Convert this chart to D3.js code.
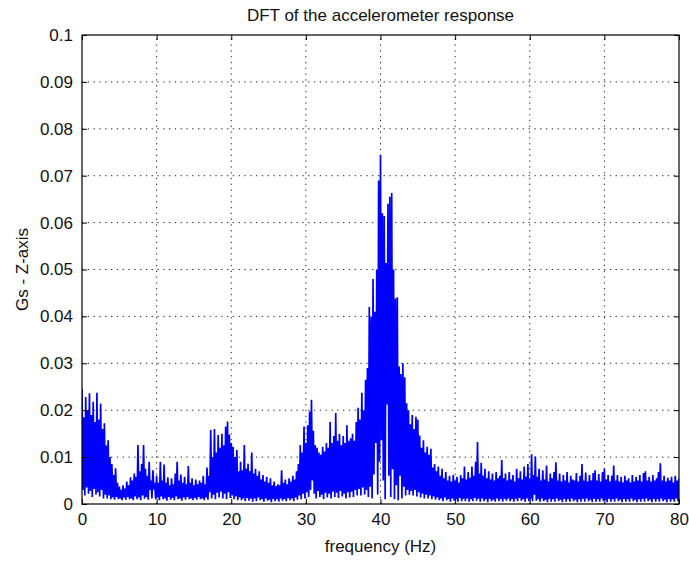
<!DOCTYPE html>
<html>
<head>
<meta charset="utf-8">
<script src="https://cdn.jsdelivr.net/npm/d3@7"></script>
<style>
  body { margin: 0; background: #fff; }
  svg { display: block; }
  text { font-family: "Liberation Sans", Arial, Helvetica, sans-serif; fill: #111; }
</style>
</head>
<body>
<svg id="chart" width="689" height="563"></svg>
<script>
// ---------------- data ----------------
const chartTitle = "DFT of the accelerometer response";
const xAxisLabel = "frequency (Hz)";
const yAxisLabel = "Gs - Z-axis";

const xTickValues = [0, 10, 20, 30, 40, 50, 60, 70, 80];
const xTickLabels = ["0", "10", "20", "30", "40", "50", "60", "70", "80"];
const yTickValues = [0, 0.01, 0.02, 0.03, 0.04, 0.05, 0.06, 0.07, 0.08, 0.09, 0.1];
const yTickLabels = ["0", "0.01", "0.02", "0.03", "0.04", "0.05", "0.06", "0.07", "0.08", "0.09", "0.1"];

// samples were read every 0.25 Hz; peaks at k*0.25 Hz, troughs half a step later
const sampleStepHz = 0.25;

// local maxima of |DFT| (Gs), one every 0.25 Hz from 0 to 80 Hz
const peakMagnitude = [
  0.0245,0.0185,0.0228,0.0200, 0.0236,0.0190,0.0218,0.0175, 0.0237,0.0180,0.0214,0.0160, 0.0172,0.0125,0.0136,0.0100,
  0.0085,0.0062,0.0076,0.0045, 0.0037,0.0030,0.0040,0.0033, 0.0048,0.0040,0.0057,0.0050, 0.0065,0.0058,0.0126,0.0070,
  0.0085,0.0126,0.0075,0.0060, 0.0090,0.0050,0.0072,0.0040, 0.0060,0.0045,0.0090,0.0050, 0.0084,0.0045,0.0057,0.0040,
  0.0055,0.0042,0.0065,0.0090, 0.0050,0.0063,0.0045,0.0058, 0.0042,0.0081,0.0045,0.0055, 0.0040,0.0052,0.0042,0.0050,
  0.0045,0.0060,0.0042,0.0078, 0.0060,0.0158,0.0100,0.0160, 0.0110,0.0147,0.0120,0.0150, 0.0125,0.0165,0.0176,0.0148,
  0.0130,0.0122,0.0100,0.0115, 0.0070,0.0090,0.0072,0.0126, 0.0075,0.0086,0.0070,0.0110, 0.0065,0.0075,0.0060,0.0070,
  0.0052,0.0062,0.0048,0.0058, 0.0045,0.0055,0.0040,0.0048, 0.0038,0.0042,0.0040,0.0072, 0.0045,0.0052,0.0042,0.0055,
  0.0048,0.0060,0.0052,0.0070, 0.0085,0.0126,0.0110,0.0165, 0.0130,0.0168,0.0197,0.0222, 0.0156,0.0125,0.0120,0.0110,
  0.0105,0.0122,0.0112,0.0130, 0.0120,0.0175,0.0130,0.0145, 0.0194,0.0135,0.0150,0.0125, 0.0145,0.0130,0.0168,0.0135,
  0.0140,0.0150,0.0135,0.0175, 0.0205,0.0180,0.0237,0.0200, 0.0265,0.0290,0.0420,0.0400, 0.0480,0.0410,0.0500,0.0690,
  0.0744,0.0620,0.0614,0.0514, 0.0640,0.0655,0.0663,0.0500, 0.0438,0.0441,0.0293,0.0277, 0.0300,0.0270,0.0215,0.0200,
  0.0170,0.0190,0.0160,0.0186, 0.0180,0.0146,0.0120,0.0136, 0.0110,0.0122,0.0105,0.0118, 0.0078,0.0085,0.0070,0.0080,
  0.0060,0.0075,0.0055,0.0068, 0.0050,0.0060,0.0048,0.0062, 0.0050,0.0058,0.0046,0.0062, 0.0055,0.0080,0.0052,0.0068,
  0.0056,0.0080,0.0060,0.0090, 0.0132,0.0065,0.0088,0.0060, 0.0075,0.0055,0.0070,0.0052, 0.0065,0.0050,0.0068,0.0055,
  0.0060,0.0094,0.0055,0.0065, 0.0050,0.0068,0.0052,0.0062, 0.0048,0.0075,0.0055,0.0070, 0.0052,0.0080,0.0058,0.0085,
  0.0055,0.0106,0.0062,0.0101, 0.0058,0.0075,0.0050,0.0072, 0.0052,0.0082,0.0048,0.0065, 0.0055,0.0068,0.0089,0.0050,
  0.0065,0.0048,0.0062,0.0050, 0.0068,0.0046,0.0060,0.0052, 0.0050,0.0066,0.0048,0.0060, 0.0085,0.0050,0.0067,0.0048,
  0.0062,0.0050,0.0066,0.0072, 0.0050,0.0064,0.0048,0.0068, 0.0075,0.0052,0.0062,0.0048, 0.0060,0.0082,0.0050,0.0062,
  0.0048,0.0058,0.0046,0.0060, 0.0050,0.0055,0.0046,0.0062, 0.0048,0.0058,0.0050,0.0062, 0.0048,0.0066,0.0070,0.0050,
  0.0058,0.0048,0.0062,0.0050, 0.0055,0.0068,0.0087,0.0050, 0.0060,0.0048,0.0056,0.0050, 0.0058,0.0046,0.0060,0.0050,
  0.0055
];

// local minima of |DFT| (Gs), half a step after each peak
const troughMagnitude = [
  0.0030,0.0018,0.0035,0.0022, 0.0028,0.0015,0.0032,0.0020, 0.0025,0.0016,0.0030,0.0012, 0.0020,0.0012,0.0018,0.0010,
  0.0014,0.0009,0.0015,0.0010, 0.0012,0.0008,0.0014,0.0009, 0.0015,0.0010,0.0012,0.0008, 0.0016,0.0010,0.0014,0.0008,
  0.0018,0.0011,0.0015,0.0009, 0.0030,0.0012,0.0036,0.0010, 0.0014,0.0008,0.0016,0.0010, 0.0012,0.0007,0.0015,0.0009,
  0.0013,0.0008,0.0016,0.0010, 0.0012,0.0007,0.0014,0.0009, 0.0015,0.0010,0.0012,0.0008, 0.0013,0.0009,0.0015,0.0010,
  0.0012,0.0008,0.0014,0.0009, 0.0025,0.0012,0.0020,0.0010, 0.0024,0.0014,0.0026,0.0012, 0.0022,0.0010,0.0025,0.0013,
  0.0018,0.0010,0.0016,0.0008, 0.0014,0.0008,0.0012,0.0006, 0.0013,0.0007,0.0011,0.0005, 0.0012,0.0006,0.0014,0.0008,
  0.0010,0.0005,0.0012,0.0007, 0.0009,0.0004,0.0011,0.0006, 0.0010,0.0005,0.0012,0.0007, 0.0011,0.0006,0.0013,0.0008,
  0.0012,0.0006,0.0014,0.0009, 0.0018,0.0010,0.0022,0.0012, 0.0025,0.0015,0.0030,0.0050, 0.0022,0.0012,0.0028,0.0015,
  0.0020,0.0010,0.0024,0.0014, 0.0022,0.0012,0.0026,0.0015, 0.0024,0.0013,0.0028,0.0016, 0.0022,0.0012,0.0025,0.0014,
  0.0026,0.0015,0.0030,0.0018, 0.0032,0.0018,0.0035,0.0020, 0.0030,0.0015,0.0037,0.0012, 0.0063,0.0130,0.0020,0.0090,
  0.0136,0.0050,0.0010,0.0212, 0.0060,0.0015,0.0074,0.0010, 0.0040,0.0008,0.0060,0.0012, 0.0037,0.0018,0.0030,0.0020,
  0.0028,0.0018,0.0030,0.0016, 0.0025,0.0014,0.0022,0.0012, 0.0020,0.0012,0.0018,0.0010, 0.0016,0.0009,0.0014,0.0008,
  0.0012,0.0006,0.0014,0.0008, 0.0011,0.0005,0.0012,0.0007, 0.0010,0.0005,0.0013,0.0006, 0.0011,0.0006,0.0012,0.0005,
  0.0010,0.0006,0.0013,0.0007, 0.0011,0.0005,0.0012,0.0006, 0.0010,0.0004,0.0011,0.0006, 0.0009,0.0005,0.0012,0.0006,
  0.0010,0.0005,0.0011,0.0007, 0.0012,0.0006,0.0010,0.0005, 0.0011,0.0006,0.0013,0.0007, 0.0010,0.0005,0.0012,0.0006,
  0.0011,0.0006,0.0020,0.0007, 0.0010,0.0005,0.0012,0.0006, 0.0009,0.0004,0.0011,0.0005, 0.0010,0.0005,0.0012,0.0006,
  0.0009,0.0004,0.0011,0.0005, 0.0010,0.0005,0.0012,0.0006, 0.0009,0.0004,0.0010,0.0005, 0.0011,0.0005,0.0012,0.0006,
  0.0009,0.0004,0.0011,0.0005, 0.0010,0.0005,0.0012,0.0006, 0.0009,0.0004,0.0011,0.0005, 0.0010,0.0005,0.0012,0.0006,
  0.0009,0.0004,0.0011,0.0005, 0.0010,0.0005,0.0012,0.0006, 0.0009,0.0004,0.0010,0.0005, 0.0011,0.0005,0.0012,0.0006,
  0.0009,0.0004,0.0011,0.0005, 0.0010,0.0005,0.0012,0.0006, 0.0009,0.0004,0.0011,0.0005, 0.0010,0.0005,0.0012,0.0006
];

// ---------------- layout ----------------
const W = 689, H = 563;
const margin = { left: 82, top: 35, right: 10, bottom: 59 };
const plotW = W - margin.left - margin.right;
const plotH = H - margin.top - margin.bottom;
const fontSize = 17;

const svg = d3.select("#chart");
svg.append("rect").attr("width", W).attr("height", H).attr("fill", "#fff");

const x = d3.scaleLinear().domain([0, 80]).range([margin.left, margin.left + plotW]);
const y = d3.scaleLinear().domain([0, 0.1]).range([margin.top + plotH, margin.top]);

// interleave peaks and troughs into one trace
const trace = [];
peakMagnitude.forEach((v, i) => {
  trace.push([i * sampleStepHz, v]);
  if (i < troughMagnitude.length) trace.push([i * sampleStepHz + sampleStepHz / 2, troughMagnitude[i]]);
});

// grid (dotted, under the data)
const grid = svg.append("g").attr("stroke", "#222").attr("stroke-width", 1)
  .attr("stroke-dasharray", "1.3,4.5").attr("fill", "none");
xTickValues.slice(1, -1).forEach(v => {
  grid.append("line").attr("x1", x(v)).attr("x2", x(v)).attr("y1", y(0)).attr("y2", y(0.1));
});
yTickValues.slice(1, -1).forEach(v => {
  grid.append("line").attr("x1", x(0)).attr("x2", x(80)).attr("y1", y(v)).attr("y2", y(v));
});

// data trace
svg.append("clipPath").attr("id", "plotClip").append("rect")
  .attr("x", margin.left).attr("y", margin.top).attr("width", plotW).attr("height", plotH);
svg.append("path")
  .datum(trace)
  .attr("clip-path", "url(#plotClip)")
  .attr("fill", "none")
  .attr("stroke", "#0000ff")
  .attr("stroke-width", 1.7)
  .attr("stroke-linejoin", "miter")
  .attr("d", d3.line().x(d => x(d[0])).y(d => y(d[1])));

// axes (inward ticks, MATLAB style box)
const tickLen = 5;
const xAxisB = d3.axisBottom(x).tickValues(xTickValues).tickFormat((d, i) => xTickLabels[i])
  .tickSizeInner(-tickLen).tickSizeOuter(0).tickPadding(9);
const gxb = svg.append("g").attr("transform", `translate(0,${y(0)})`).call(xAxisB);
const xAxisT = d3.axisTop(x).tickValues(xTickValues).tickFormat("").tickSizeInner(-tickLen).tickSizeOuter(0);
const gxt = svg.append("g").attr("transform", `translate(0,${y(0.1)})`).call(xAxisT);
const yAxisL = d3.axisLeft(y).tickValues(yTickValues).tickFormat((d, i) => yTickLabels[i])
  .tickSizeInner(-tickLen).tickSizeOuter(0).tickPadding(9);
const gyl = svg.append("g").attr("transform", `translate(${x(0)},0)`).call(yAxisL);
const yAxisR = d3.axisRight(y).tickValues(yTickValues).tickFormat("").tickSizeInner(-tickLen).tickSizeOuter(0);
const gyr = svg.append("g").attr("transform", `translate(${x(80)},0)`).call(yAxisR);

[gxb, gxt, gyl, gyr].forEach(g => {
  g.select(".domain").remove();
  g.selectAll(".tick line").attr("stroke", "#000").attr("stroke-width", 1);
  g.selectAll("text").attr("font-size", fontSize).attr("fill", "#111")
    .attr("font-family", '"Liberation Sans", Arial, sans-serif');
});

// box
svg.append("rect")
  .attr("x", x(0)).attr("y", y(0.1)).attr("width", x(80) - x(0)).attr("height", y(0) - y(0.1))
  .attr("fill", "none").attr("stroke", "#000").attr("stroke-width", 1.2);

// title and axis labels
svg.append("text").attr("x", (x(0) + x(80)) / 2).attr("y", 15)
  .attr("text-anchor", "middle").attr("dominant-baseline", "central")
  .attr("font-size", fontSize).text(chartTitle);
svg.append("text").attr("x", (x(0) + x(80)) / 2).attr("y", 546)
  .attr("text-anchor", "middle").attr("dominant-baseline", "central")
  .attr("font-size", fontSize).text(xAxisLabel);
svg.append("text")
  .attr("transform", `translate(22,${(y(0) + y(0.1)) / 2}) rotate(-90)`)
  .attr("text-anchor", "middle").attr("dominant-baseline", "central")
  .attr("font-size", fontSize).text(yAxisLabel);
</script>
</body>
</html>
